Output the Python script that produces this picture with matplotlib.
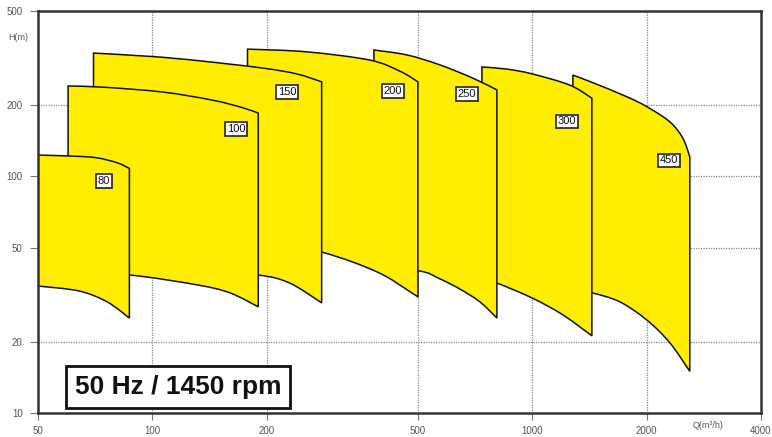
import numpy as np
import matplotlib.pyplot as plt
from matplotlib.path import Path
from matplotlib.patches import PathPatch
from matplotlib.ticker import FixedLocator, FixedFormatter, NullLocator

plt.rcParams["font.family"] = ["Liberation Sans", "DejaVu Sans"]

# pump sizes and their operating fields (Q in m3/h, H in m)
sizes = ["80", "100", "150", "200", "250", "300", "450"]

q80_top = [50, 60, 71, 81, 87]
h80_top = [123, 122, 120, 114, 108]
q80_bot = [50, 64, 76, 87]
h80_bot = [34.4, 32.8, 29.5, 25.2]

q100_top = [60, 75, 107, 144, 173, 190]
h100_top = [241, 238, 227, 210, 195, 185]
q100_bot = [60, 87, 131, 160, 190]
h100_bot = [39, 38.3, 34.8, 32.2, 28.1]

q150_top = [70, 100, 133, 195, 240, 279]
h150_top = [332, 321, 308, 287, 271, 251]
q150_bot = [70, 130, 190, 230, 279]
h150_bot = [40, 40, 38.3, 35.4, 29.2]

q200_top = [178, 255, 374, 449, 500]
h200_top = [345, 336, 310, 278, 251]
q200_bot = [178, 279, 390, 476, 500]
h200_bot = [56, 47.9, 39.5, 32.6, 30.9]

q250_top = [383, 468, 571, 698, 807]
h250_top = [342, 326, 296, 260, 232]
q250_bot = [383, 506, 571, 645, 728, 807]
h250_bot = [41, 39.8, 36.9, 33.4, 29.5, 25.2]

q300_top = [737, 858, 1000, 1256, 1435]
h300_top = [290, 284, 271, 243, 214]
q300_bot = [737, 807, 1000, 1203, 1435]
h300_bot = [36.5, 35.4, 30.6, 26.0, 21.2]

q450_top = [1279, 1443, 1774, 2003, 2302, 2491, 2598]
h450_top = [268, 249, 217, 197, 170, 145, 121]
q450_bot = [1279, 1435, 1700, 2003, 2302, 2598]
h450_bot = [33, 32.2, 29.5, 24.7, 19.8, 15.0]

fields = [
    (q80_top, h80_top, q80_bot, h80_bot),
    (q100_top, h100_top, q100_bot, h100_bot),
    (q150_top, h150_top, q150_bot, h150_bot),
    (q200_top, h200_top, q200_bot, h200_bot),
    (q250_top, h250_top, q250_bot, h250_bot),
    (q300_top, h300_top, q300_bot, h300_bot),
    (q450_top, h450_top, q450_bot, h450_bot),
]

# where the size tags sit (data coords)
tag_pos = [(74.6, 95.6), (166, 158.6), (226, 227), (430, 229.6),
           (673, 223), (1233, 171), (2289, 117)]

xticks = [50, 100, 200, 500, 1000, 2000, 4000]
yticks = [10, 20, 50, 100, 200, 500]


def smooth(xs, ys):
    # bezier handles (Catmull-Rom in log space) so the curve runs through the read points
    p = np.column_stack([np.log10(xs), np.log10(ys)])
    out = []
    for i in range(len(p) - 1):
        p0 = p[max(i - 1, 0)]
        p1, p2 = p[i], p[i + 1]
        p3 = p[min(i + 2, len(p) - 1)]
        out += [p1 + (p2 - p0) / 6, p2 - (p3 - p1) / 6, p2]
    return list(10 ** np.array(out))


def field_path(qt, ht, qb, hb):
    verts = [(qt[0], ht[0])]
    codes = [Path.MOVETO]
    top = smooth(qt, ht)
    verts += top
    codes += [Path.CURVE4] * len(top)
    verts.append((qb[-1], hb[-1]))
    codes.append(Path.LINETO)
    bot = smooth(qb[::-1], hb[::-1])
    verts += bot
    codes += [Path.CURVE4] * len(bot)
    verts.append((qt[0], ht[0]))
    codes.append(Path.CLOSEPOLY)
    return Path(verts, codes)


fig = plt.figure(figsize=(7.72, 4.37), dpi=100)
ax = fig.add_axes([38 / 772, 24 / 437, 723 / 772, 402 / 437])
ax.set_xscale("log")
ax.set_yscale("log")
ax.set_xlim(50, 4000)
ax.set_ylim(10, 500)

# dotted grid
for x in xticks[1:-1]:
    ax.axvline(x, color="#888888", ls=(0, (1, 1)), lw=0.9, zorder=0.5)
for y in yticks[1:-1]:
    ax.axhline(y, color="#888888", ls=(0, (1, 1)), lw=0.9, zorder=0.5)

# smaller pumps sit on top of larger ones
n = len(fields)
for i, (qt, ht, qb, hb) in enumerate(fields):
    ax.add_patch(PathPatch(field_path(qt, ht, qb, hb), fc="#FFEE00", ec="#111111",
                           lw=1.1, joinstyle="miter", zorder=2 + (n - i)))

for s, (x, y) in zip(sizes, tag_pos):
    ax.text(x, y, s, ha="center", va="center", fontsize=8, color="#111111",
            zorder=20,
            bbox=dict(boxstyle="square,pad=0.15", fc="white", ec="#222222", lw=1.2))

ax.text(0.194, 0.065, "50 Hz / 1450 rpm", transform=ax.transAxes,
        ha="center", va="center", fontsize=19, fontweight="bold", color="#111111",
        zorder=30,
        bbox=dict(boxstyle="square,pad=0.33", fc="white", ec="#111111", lw=2))

ax.xaxis.set_major_locator(FixedLocator(xticks))
ax.xaxis.set_major_formatter(FixedFormatter([str(v) for v in xticks]))
ax.yaxis.set_major_locator(FixedLocator(yticks))
ax.yaxis.set_major_formatter(FixedFormatter([str(v) for v in yticks]))
ax.xaxis.set_minor_locator(NullLocator())
ax.yaxis.set_minor_locator(NullLocator())
ax.tick_params(axis="both", length=6, width=0.8, color="#777777",
               labelsize=7, labelcolor="#555555")
ax.tick_params(axis="x", length=5, pad=4)
ax.tick_params(axis="y", pad=5)

for sp in ax.spines.values():
    sp.set_color("#333333")
    sp.set_linewidth(1.8)
    sp.set_zorder(40)

fig.text(18 / 772, 1 - 37 / 437, "H(m)", fontsize=6.5, color="#555555",
         ha="center", va="center")
fig.text(708 / 772, 1 - 425 / 437, "Q(m³/h)", fontsize=6.5, color="#555555",
         ha="center", va="center")

fig.savefig("out.png", dpi=100)
